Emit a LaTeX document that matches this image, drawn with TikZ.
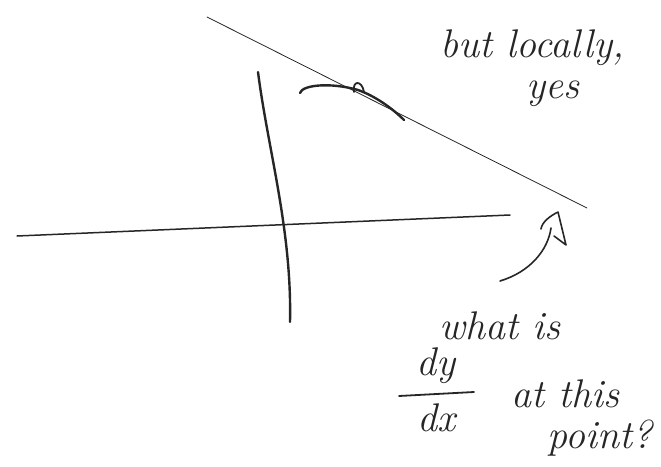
\documentclass[tikz,border=0pt]{standalone}
\usepackage{amsmath}
\begin{document}
\begin{tikzpicture}[x=1pt,y=-1pt,
  ink/.style={draw=black!85,line cap=round,line join=round},
  thinink/.style={ink,line width=0.8pt},
  thickink/.style={ink,line width=2.4pt},
  hand/.style={text=black!85,font=\fontsize{40}{46}\selectfont\itshape,inner sep=0pt}]
\useasboundingbox (0,0) rectangle (661,466);
% tangent line
\coordinate (t1) at (207,17);
\coordinate (t2) at (587,208);
\draw[thinink] (t1) -- (t2);
% horizontal axis
\coordinate (h1) at (17,236);
\coordinate (h2) at (510,215);
\draw[ink,line width=1.5pt] (h1) -- (h2);
% vertical axis
\coordinate (v1) at (258,72);
\coordinate (v2) at (290,322);
\draw[thickink] (v1) .. controls (268,150) and (292,230) .. (v2);
% curve touching the tangent
\coordinate (c1) at (300,93);
\coordinate (c2) at (358,90);
\coordinate (c3) at (404,120);
\draw[thickink] (c1) .. controls (302,85) and (330,82) .. (c2)
  .. controls (375,96) and (392,108) .. (c3);
\draw[ink,line width=1.8pt] (354,92) .. controls (352,80) and (362,80) .. (364,92);
% arrow
\coordinate (a1) at (500,281);
\coordinate (a2) at (551,228);
\coordinate (tip) at (558,212);
\draw[ink,line width=1.6pt] (a1) .. controls (530,272) and (548,250) .. (a2);
\draw[ink,line width=1.6pt] (541,229) .. controls (542,222) and (550,216) .. (tip) -- (566,245) -- (554,236);
% texts
\node[hand] (t-but) at (532,48) {but locally,};
\node[hand] (t-yes) at (553,94) {yes};
\node[hand] (t-what) at (500,326) {what is};
\node[hand] (t-dy) at (436,366) {dy};
\node[hand] (t-dx) at (436,418) {dx};
\coordinate (bar1) at (399,396);
\coordinate (bar2) at (474,392);
\draw[ink,line width=1.8pt] (bar1) -- (bar2);
\node[hand] (t-at) at (565,394) {at this};
\node[hand] (t-point) at (600,438) {point?};
\end{tikzpicture}
\end{document}
